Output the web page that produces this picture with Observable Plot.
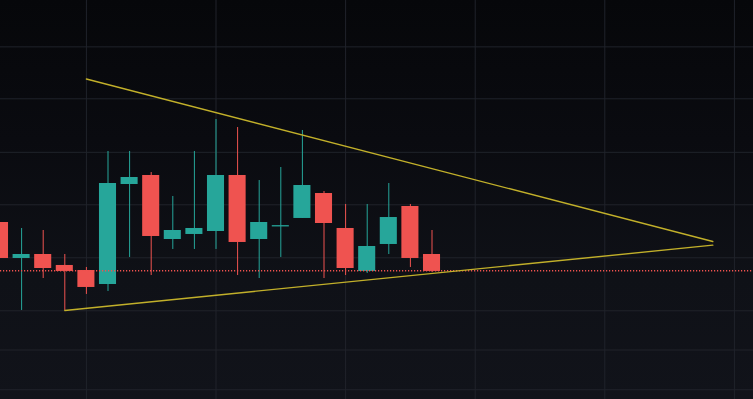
<!DOCTYPE html>
<html>
<head>
<meta charset="utf-8">
<script src="https://cdn.jsdelivr.net/npm/d3@7"></script>
<script src="https://cdn.jsdelivr.net/npm/@observablehq/plot@0.6"></script>
<style>
  html, body { margin: 0; padding: 0; overflow: hidden; }
  body { width: 753px; height: 399px; background: linear-gradient(to bottom, #06070a 0%, #0a0b10 35%, #0f1117 70%, #11131a 100%); }
  #chart svg { display: block; background: transparent; }
</style>
</head>
<body>
<div id="chart"></div>
<script>
// Candle index (bar number)
const bars   = [0, 1, 2, 3, 4, 5, 6, 7, 8, 9, 10, 11, 12, 13, 14, 15, 16, 17, 18, 19, 20];
const opens  = [100.666, 99.987, 100.062, 99.855, 99.760, 99.496, 101.383, 101.553, 100.345, 100.440, 100.496, 101.553, 100.345, 100.604, 100.742, 101.213, 100.553, 99.742, 100.251, 100.968, 100.062];
const highs  = [100.666, 100.553, 100.515, 100.062, 99.817, 102.006, 102.006, 101.609, 101.157, 102.006, 102.609, 102.458, 101.458, 101.704, 102.402, 101.251, 101.006, 101.006, 101.402, 101.006, 100.515];
const lows   = [99.987, 99.006, 99.609, 99.006, 99.308, 99.364, 100.006, 99.666, 100.157, 100.157, 100.157, 99.666, 99.609, 100.006, 100.742, 99.609, 99.666, 99.704, 100.062, 99.817, 99.723];
const closes = [99.987, 100.062, 99.798, 99.742, 99.440, 101.402, 101.515, 100.402, 100.515, 100.553, 101.553, 100.289, 100.666, 100.604, 101.364, 100.647, 99.798, 100.213, 100.760, 99.987, 99.742];

// Triangle trendlines (bar, price)
const upperLine = [{bar: 4, price: 103.374}, {bar: 33, price: 100.308}];
const lowerLine = [{bar: 3, price: 99.006}, {bar: 33, price: 100.238}];

// Current price line
const lastPrice = 99.755;

// Grid positions
const gridBars   = [4, 10, 16, 22, 28, 34];
const gridPrices = [103.98, 103.0, 101.99, 101.0, 100.0, 99.0, 98.26, 97.51];

const UP = "#26a69a", DOWN = "#ef5350";

const candles = bars.map((b, i) => ({
  bar: b, open: opens[i], high: highs[i], low: lows[i], close: closes[i],
  up: closes[i] >= opens[i]
}));
const dojis = candles.filter(d => d.open === d.close);
const bodies = candles.filter(d => d.open !== d.close);

const chart = Plot.plot({
  width: 753,
  height: 399,
  marginTop: 0, marginRight: 0, marginBottom: 0, marginLeft: 0,
  style: {background: "transparent"},
  x: {type: "linear", domain: [0.0231, 34.884], axis: null},
  y: {type: "linear", domain: [97.326, 104.855], axis: null},
  marks: [
    Plot.ruleX(gridBars, {x: d => d, stroke: "#20232b", strokeWidth: 1}),
    Plot.ruleY(gridPrices, {y: d => d, stroke: "#20232b", strokeWidth: 1}),
    Plot.ruleX(candles, {x: "bar", y1: "low", y2: "high", stroke: d => d.up ? UP : DOWN, strokeWidth: 1, clip: true}),
    Plot.rect(bodies, {
      x1: d => d.bar - 0.395, x2: d => d.bar + 0.395,
      y1: d => Math.min(d.open, d.close), y2: d => Math.max(d.open, d.close),
      fill: d => d.up ? UP : DOWN, clip: true
    }),
    Plot.ruleY(dojis, {x1: d => d.bar - 0.395, x2: d => d.bar + 0.395, y: "open", stroke: UP, strokeWidth: 1.3}),
    Plot.ruleY([lastPrice], {y: d => d, stroke: "#f0534f", strokeWidth: 1.6, strokeDasharray: "1.2,1.8"}),
    Plot.line(upperLine, {x: "bar", y: "price", stroke: "#c2b02a", strokeWidth: 1.4}),
    Plot.line(lowerLine, {x: "bar", y: "price", stroke: "#c2b02a", strokeWidth: 1.4})
  ]
});
document.getElementById("chart").appendChild(chart);
</script>
</body>
</html>
